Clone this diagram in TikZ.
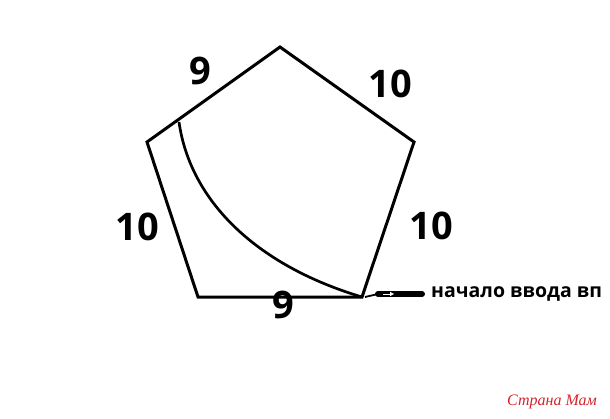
\documentclass[tikz,border=0pt]{standalone}
\usepackage{fontspec}
\setmainfont{Open Sans}
\newfontfamily\wmfont{Liberation Serif}
\definecolor{wmred}{RGB}{215,35,45}
\begin{document}
\begin{tikzpicture}[x=1pt,y=-1pt,
  edge/.style={line width=3pt,line join=miter},
  numlab/.style={font=\fontsize{38}{40}\selectfont\bfseries,inner sep=0pt},
  notelab/.style={font=\fontsize{19.5}{21}\selectfont\bfseries,inner sep=0pt,anchor=west}]
\useasboundingbox (0,0) rectangle (610,418);
\fill[white] (0,0) rectangle (610,418);
% vertices
\coordinate (T) at (280,47);
\coordinate (R) at (414,142);
\coordinate (BR) at (362,297);
\coordinate (BL) at (198,297);
\coordinate (L) at (147,142);
\coordinate (P) at (179,122);
\draw[edge] (T) -- (R) -- (BR) -- (BL) -- (L) -- cycle;
\draw[line width=2.7pt] (P) .. controls (190,200) and (255,265) .. (BR);
% labels
\node[numlab] (a) at (200,71) {9};
\node[numlab] (b) at (390,84) {10};
\node[numlab] (c) at (137,227) {10};
\node[numlab] (d) at (431,226) {10};
\node[numlab] (e) at (283,305) {9};
% note and pointer
\node[notelab] (n) at (431,294) {начало ввода вп};
\coordinate (tip) at ([xshift=3pt]BR);
\draw[line width=1.8pt] (tip) -- (378,294);
\draw[line width=6pt,line cap=round] (378,294) -- (422,294);
\draw[white,line width=1pt] (383,294) -- (390,294);
\fill[white] (394,294) -- (390,291.8) -- (390,296.2) -- cycle;
% watermark
\node[font=\wmfont\itshape\fontsize{16}{18}\selectfont,text=wmred,inner sep=0pt] (w) at (552,402) {Страна Мам};
\end{tikzpicture}
\end{document}
